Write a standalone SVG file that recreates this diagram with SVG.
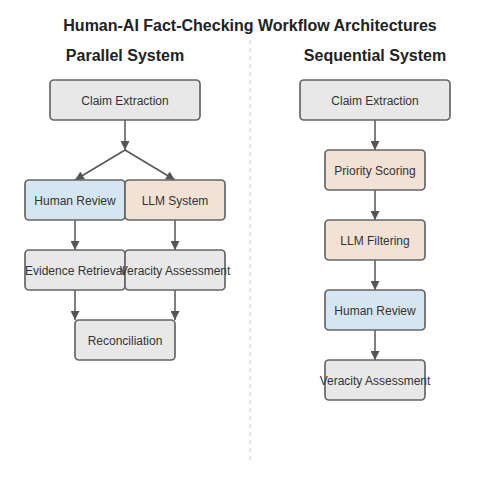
<svg xmlns="http://www.w3.org/2000/svg" width="500" height="500" viewBox="0 0 500 500">
<defs>
<marker id="arr" viewBox="0 0 10 10" refX="10" refY="5" markerWidth="6" markerHeight="6" orient="auto" markerUnits="strokeWidth">
<path d="M0,0 L10,5 L0,10 z" fill="#555"/>
</marker>
<style>
.t{font-family:"Liberation Sans",Arial,sans-serif;font-size:12px;fill:#333;text-anchor:middle;dominant-baseline:central}
.h{font-family:"Liberation Sans",Arial,sans-serif;font-weight:bold;fill:#222;text-anchor:middle}
.b{stroke:#666;stroke-width:1.7}
.g{fill:#e8e8e8}
.bl{fill:#d5e6f2}
.or{fill:#f2e1d5}
.c{stroke:#555;stroke-width:1.5;fill:none;marker-end:url(#arr)}
</style>
</defs>
<rect width="500" height="500" fill="#fff"/>
<text class="h" x="250" y="31" font-size="16">Human-AI Fact-Checking Workflow Architectures</text>
<text class="h" x="125" y="61" font-size="16">Parallel System</text>
<text class="h" x="375" y="61" font-size="16">Sequential System</text>
<line x1="250" y1="40" x2="250" y2="460" stroke="#ddd" stroke-width="1.5" stroke-dasharray="4,4"/>
<g id="connectors">
<line class="c" x1="125" y1="120" x2="125" y2="150"/>
<line class="c" x1="125" y1="150" x2="75" y2="180"/>
<line class="c" x1="125" y1="150" x2="175" y2="180"/>
<line class="c" x1="75" y1="220" x2="75" y2="250"/>
<line class="c" x1="175" y1="220" x2="175" y2="250"/>
<line class="c" x1="75" y1="290" x2="75" y2="320"/>
<line class="c" x1="175" y1="290" x2="175" y2="320"/>
<line class="c" x1="375" y1="120" x2="375" y2="150"/>
<line class="c" x1="375" y1="190" x2="375" y2="220"/>
<line class="c" x1="375" y1="260" x2="375" y2="290"/>
<line class="c" x1="375" y1="330" x2="375" y2="360"/>
</g>
<g id="p-claim"><rect class="b g" x="50" y="80" width="150" height="40" rx="4"/><text class="t" x="125" y="101">Claim Extraction</text></g>
<g id="p-human"><rect class="b bl" x="25" y="180" width="100" height="40" rx="4"/><text class="t" x="75" y="201">Human Review</text></g>
<g id="p-llm"><rect class="b or" x="125" y="180" width="100" height="40" rx="4"/><text class="t" x="175" y="201">LLM System</text></g>
<g id="p-evidence"><rect class="b g" x="25" y="250" width="100" height="40" rx="4"/><text class="t" x="75" y="271">Evidence Retrieval</text></g>
<g id="p-veracity"><rect class="b g" x="125" y="250" width="100" height="40" rx="4"/><text class="t" x="175" y="271">Veracity Assessment</text></g>
<g id="p-recon"><rect class="b g" x="75" y="320" width="100" height="40" rx="4"/><text class="t" x="125" y="341">Reconciliation</text></g>
<g id="s-claim"><rect class="b g" x="300" y="80" width="150" height="40" rx="4"/><text class="t" x="375" y="101">Claim Extraction</text></g>
<g id="s-priority"><rect class="b or" x="325" y="150" width="100" height="40" rx="4"/><text class="t" x="375" y="171">Priority Scoring</text></g>
<g id="s-llm"><rect class="b or" x="325" y="220" width="100" height="40" rx="4"/><text class="t" x="375" y="241">LLM Filtering</text></g>
<g id="s-human"><rect class="b bl" x="325" y="290" width="100" height="40" rx="4"/><text class="t" x="375" y="311">Human Review</text></g>
<g id="s-veracity"><rect class="b g" x="325" y="360" width="100" height="40" rx="4"/><text class="t" x="375" y="381">Veracity Assessment</text></g>
</svg>
